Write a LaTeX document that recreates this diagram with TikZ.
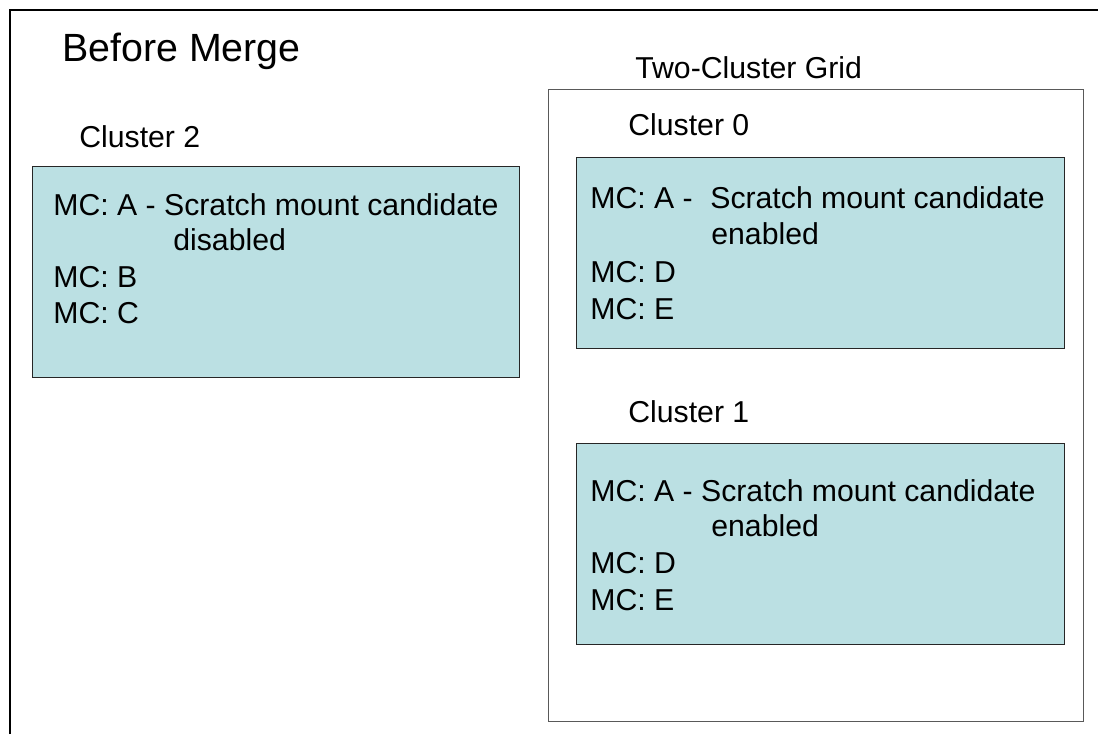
\documentclass[tikz,border=0pt]{standalone}
\usepackage{fontspec}
\setmainfont{Liberation Sans}
\definecolor{boxfill}{RGB}{187,224,227}

\begin{document}
\begin{tikzpicture}[x=0.02cm, y=-0.02cm,
    mcbox/.style={draw=black!85, line width=0.6pt, fill=boxfill, anchor=north west, inner sep=0pt},
    gridbox/.style={draw=black!65, line width=0.6pt, anchor=north west, inner sep=0pt},
    mctxt/.style={anchor=base west, inner sep=0pt, font=\fontsize{17.2}{20}\selectfont}]
  \useasboundingbox (0,0) rectangle (1098,734);

  % 1. 外框 (只看得到上邊和左邊) 與標題
  \draw[line width=0.6pt] (10,734) -- (10,10) -- (1098,10);
  \node[anchor=base west, inner sep=0pt, font=\fontsize{22.4}{26}\selectfont] (title) at (62,61) {Before Merge};

  % 2. Cluster 2
  \node[mctxt] (c2) at (79,147) {Cluster 2};
  \node[mcbox, minimum width=9.74cm, minimum height=4.22cm] (c2box) at (32,166) {};
  \node[mctxt] (c2a) at (53,215) {MC: A - Scratch mount candidate};
  \node[mctxt] (c2ax) at (173,250) {disabled};
  \node[mctxt] (c2b) at (53,287) {MC: B};
  \node[mctxt] (c2c) at (53,323) {MC: C};

  % 3. Two-Cluster Grid
  \node[mctxt] (grid) at (635,78) {Two-Cluster Grid};
  \node[gridbox, minimum width=10.7cm, minimum height=12.64cm] (gridbox) at (548,89) {};

  % 4. Cluster 0
  \node[mctxt] (c0) at (628,135) {Cluster 0};
  \node[mcbox, minimum width=9.76cm, minimum height=3.82cm] (c0box) at (576,157) {};
  \node[mctxt] (c0a) at (590,208) {MC: A -};
  \node[mctxt] (c0as) at (710,208) {Scratch mount candidate};
  \node[mctxt] (c0ax) at (711,244) {enabled};
  \node[mctxt] (c0d) at (590,282) {MC: D};
  \node[mctxt] (c0e) at (590,319) {MC: E};

  % 5. Cluster 1
  \node[mctxt] (c1) at (628,422) {Cluster 1};
  \node[mcbox, minimum width=9.76cm, minimum height=4.02cm] (c1box) at (576,443) {};
  \node[mctxt] (c1a) at (590,501) {MC: A - Scratch mount candidate};
  \node[mctxt] (c1ax) at (711,536) {enabled};
  \node[mctxt] (c1d) at (590,573) {MC: D};
  \node[mctxt] (c1e) at (590,610) {MC: E};
\end{tikzpicture}
\end{document}
